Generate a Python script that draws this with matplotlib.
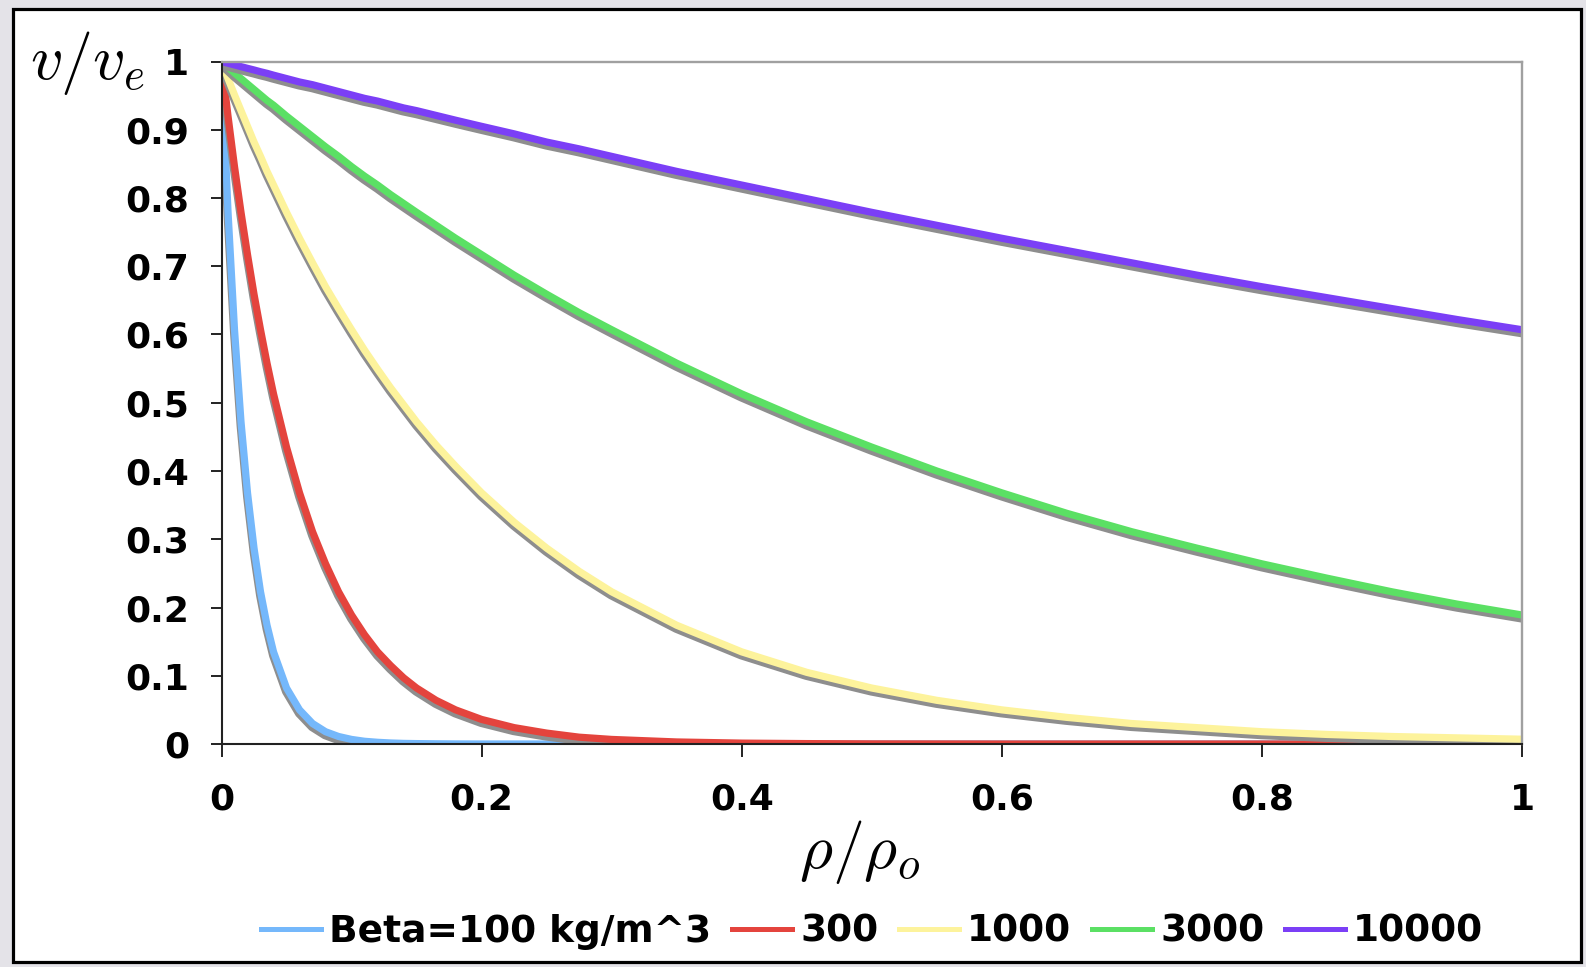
import numpy as np
import matplotlib.pyplot as plt
import matplotlib.patheffects as pe
from matplotlib.patches import Rectangle

plt.rcParams['font.family'] = ['DejaVu Sans']
plt.rcParams['font.weight'] = 'bold'
plt.rcParams['mathtext.fontset'] = 'cm'

# Werte
rho = [0, 0.005, 0.01, 0.015, 0.02, 0.025, 0.03, 0.035, 0.04, 0.05, 0.06, 0.07, 0.08, 0.09,
       0.1, 0.11, 0.12, 0.13, 0.14, 0.15, 0.165, 0.18, 0.2, 0.225, 0.25, 0.275, 0.3,
       0.35, 0.4, 0.45, 0.5, 0.55, 0.6, 0.65, 0.7, 0.75, 0.8, 0.85, 0.9, 0.95, 1.0]

v100 = [1.0, 0.78, 0.607, 0.472, 0.368, 0.287, 0.223, 0.174, 0.135, 0.082, 0.05, 0.03, 0.018, 0.011,
        0.0067, 0.004, 0.0025, 0.0015, 0.0009, 0.0006, 0.0003, 0.0001, 0, 0, 0, 0, 0,
        0, 0, 0, 0, 0, 0, 0, 0, 0, 0, 0, 0, 0, 0]
v300 = [1.0, 0.92, 0.846, 0.779, 0.717, 0.659, 0.607, 0.558, 0.513, 0.435, 0.368, 0.311, 0.264, 0.223,
        0.189, 0.16, 0.135, 0.115, 0.097, 0.082, 0.064, 0.05, 0.036, 0.024, 0.016, 0.01, 0.0067,
        0.003, 0.0013, 0.0006, 0.0002, 0.0001, 0, 0, 0, 0, 0, 0, 0, 0, 0]
v1000 = [1.0, 0.975, 0.951, 0.928, 0.905, 0.882, 0.861, 0.839, 0.819, 0.779, 0.741, 0.705, 0.67, 0.638,
         0.607, 0.577, 0.549, 0.522, 0.497, 0.472, 0.438, 0.407, 0.368, 0.325, 0.287, 0.253, 0.223,
         0.174, 0.135, 0.105, 0.082, 0.064, 0.05, 0.039, 0.03, 0.024, 0.018, 0.014, 0.011, 0.009, 0.007]
v3000 = [1.0, 0.992, 0.983, 0.975, 0.967, 0.959, 0.951, 0.943, 0.936, 0.92, 0.905, 0.89, 0.875, 0.861,
         0.846, 0.832, 0.819, 0.805, 0.792, 0.779, 0.76, 0.741, 0.717, 0.687, 0.659, 0.632, 0.607,
         0.558, 0.513, 0.472, 0.435, 0.4, 0.368, 0.338, 0.311, 0.287, 0.264, 0.243, 0.223, 0.205, 0.189]
v10000 = [1.0, 0.9975, 0.995, 0.9925, 0.99, 0.9876, 0.985, 0.9827, 0.98, 0.975, 0.97, 0.966, 0.961, 0.956,
          0.951, 0.946, 0.942, 0.937, 0.932, 0.928, 0.921, 0.914, 0.905, 0.894, 0.882, 0.872, 0.861,
          0.839, 0.819, 0.799, 0.779, 0.76, 0.741, 0.723, 0.705, 0.687, 0.67, 0.654, 0.638, 0.622, 0.607]

labels = ['Beta=100 kg/m^3', '300', '1000', '3000', '10000']
colors = ['#75b8fb', '#e4443d', '#fdf39c', '#5be064', '#7b3ff6']
curves = [v100, v300, v1000, v3000, v10000]

W, H = 1586, 967
fig = plt.figure(figsize=(W / 100, H / 100), dpi=100, facecolor='#e4e3e8')

# weisser Rahmen mit schwarzem Rand
fig.patches.append(Rectangle((12.5 / W, 1 - 962 / H), (1581 - 12.5) / W, (962 - 9) / H,
                             transform=fig.transFigure, facecolor='white',
                             edgecolor='black', linewidth=2.3, zorder=-10))

ax = fig.add_axes([221.5 / W, 1 - 744 / H, (1522 - 221.5) / W, (744 - 61.5) / H])
ax.set_facecolor('white')

shadow = [pe.SimpleLineShadow(offset=(-0.6, -2.8), shadow_color='#8e8e8e', alpha=1.0),
          pe.Normal()]
for y, c, lab in zip(curves, colors, labels):
    ax.plot(rho, y, color=c, linewidth=5.2, label=lab, path_effects=shadow,
            solid_joinstyle='round')

ax.set_xlim(0, 1)
ax.set_ylim(0, 1)
ax.set_xticks(np.arange(0, 1.01, 0.2))
ax.set_xticklabels(['0', '0.2', '0.4', '0.6', '0.8', '1'])
ax.set_yticks(np.arange(0, 1.01, 0.1))
ax.set_yticklabels(['0', '0.1', '0.2', '0.3', '0.4', '0.5', '0.6', '0.7', '0.8', '0.9', '1'])
ax.tick_params(axis='x', direction='out', length=9, width=1.4, color='#222222',
               labelsize=26, pad=19)
ax.tick_params(axis='y', direction='out', length=8, width=1.4, color='#222222',
               labelsize=26, pad=15)

for s in ['left', 'bottom']:
    ax.spines[s].set_color('#222222')
    ax.spines[s].set_linewidth(1.5)
for s in ['top', 'right']:
    ax.spines[s].set_color('#a0a0a0')
    ax.spines[s].set_linewidth(1.7)

fig.text(88 / W, 1 - 63 / H, r'$v/v_e$', ha='center', va='center', fontsize=46)
fig.text(860 / W, 1 - 852 / H, r'$\rho/\rho_o$', ha='center', va='center', fontsize=46)

leg = fig.legend(loc='center', bbox_to_anchor=(872 / W, 1 - 932 / H), ncol=5, frameon=False,
                 fontsize=27, handlelength=1.6, handletextpad=0.22, columnspacing=0.55)
for line in leg.get_lines():
    line.set_path_effects([])
    line.set_linewidth(3.6)

fig.savefig('out.png', dpi=100, facecolor=fig.get_facecolor())
